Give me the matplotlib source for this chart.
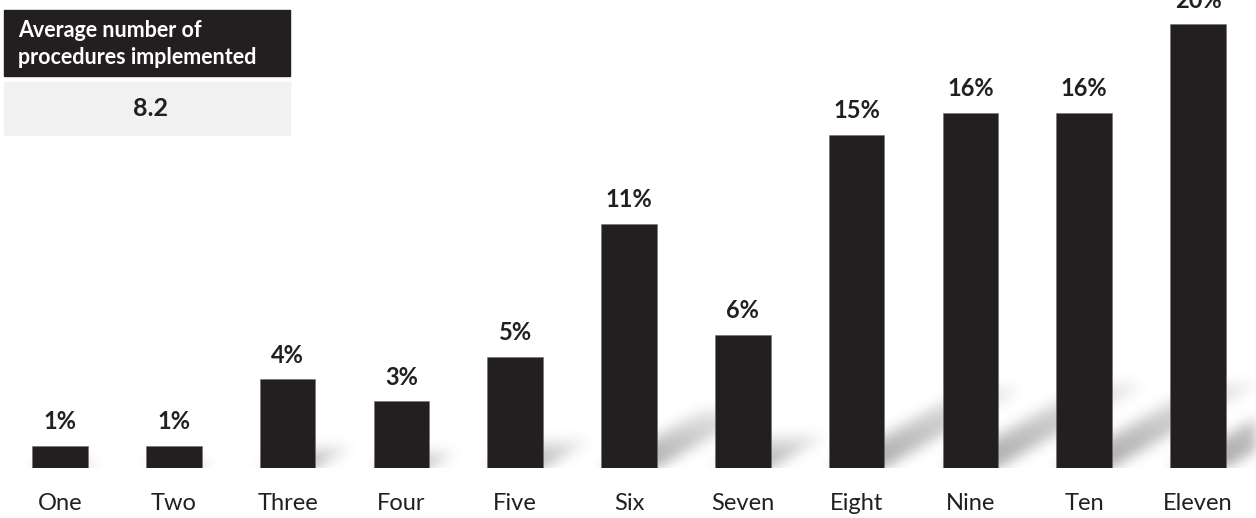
import numpy as np
import matplotlib
matplotlib.use("Agg")
import matplotlib.pyplot as plt
from matplotlib.patches import Rectangle

# datos
categorias = ["One", "Two", "Three", "Four", "Five", "Six", "Seven", "Eight", "Nine", "Ten", "Eleven"]
porcentajes = [1, 1, 4, 3, 5, 11, 6, 15, 16, 16, 20]
etiquetas = ["1%", "1%", "4%", "3%", "5%", "11%", "6%", "15%", "16%", "16%", "20%"]
titulo_caja = "Average number of\nprocedures implemented"
promedio = "8.2"

color_barra = "#231f20"
ancho = 0.49
fuente = "Lato"

fig = plt.figure(figsize=(12.56, 5.18), dpi=100)
ax = fig.add_axes([0, 50 / 518, 1, 468 / 518])
xmin, xmax = -60 / 113.8, (1256 - 60) / 113.8
ymin, ymax = 0, 468 / 22.2
ax.set_xlim(xmin, xmax)
ax.set_ylim(ymin, ymax)
ax.axis("off")

x = np.arange(len(categorias))

# sombras: cada barra proyecta una sombra difusa hacia atras a la derecha
nx, ny = 1256, 468
gx = np.linspace(xmin, xmax, nx)
gy = np.linspace(ymin, ymax, ny)
X, Y = np.meshgrid(gx, gy)
sombra = np.zeros_like(X)
for xi, v in zip(x, porcentajes):
    x0 = xi - ancho / 2
    dx, dy = 0.08 * v, 0.235 * v
    t = Y / dy
    s = (X - x0 - t * dx) / ancho
    dentro = (t >= 0) & (t <= 1) & (s >= 0) & (s <= 1)
    val = np.where(dentro, 0.5 * (1 - 0.75 * t), 0)
    sombra = np.maximum(sombra, val)

# desenfoque gaussiano simple
r = 20
k = np.exp(-0.5 * (np.arange(-r, r + 1) / 6.5) ** 2)
k /= k.sum()
pad = np.pad(sombra, ((r, r), (r, r)))
pad = np.apply_along_axis(lambda f: np.convolve(f, k, mode="same"), 1, pad)
pad = np.apply_along_axis(lambda c: np.convolve(c, k, mode="same"), 0, pad)
sombra = pad[r:-r, r:-r]

rgba = np.zeros((ny, nx, 4))
rgba[..., :3] = 0.3
rgba[..., 3] = np.clip(sombra, 0, 1)
ax.imshow(rgba, extent=[xmin, xmax, ymin, ymax], origin="lower", aspect="auto",
          interpolation="bilinear", zorder=1)

ax.bar(x, porcentajes, width=ancho, color=color_barra, edgecolor="#6d6e71",
       linewidth=0.4, zorder=2)

for xi, v, et in zip(x, porcentajes, etiquetas):
    ax.annotate(et, (xi, v), xytext=(0, 24), textcoords="offset pixels",
                ha="center", va="center", fontsize=17, fontweight="bold",
                family=fuente, color=color_barra, annotation_clip=False)

for xi, c in zip(x, categorias):
    ax.annotate(c, (xi, 0), xytext=(0, -36), textcoords="offset pixels",
                ha="center", va="center", fontsize=17, family=fuente,
                color=color_barra, annotation_clip=False)

# caja superior izquierda
W, H = 1256, 518
fig.add_artist(Rectangle((4 / W, 1 - 76 / H), 286 / W, 66 / H, transform=fig.transFigure,
                         color=color_barra, zorder=5))
fig.add_artist(Rectangle((4 / W, 1 - 135 / H), 286 / W, 53 / H, transform=fig.transFigure,
                         color="#f1f1f2", zorder=5))
fig.text(18 / W, 1 - 44 / H, titulo_caja, ha="left", va="center", color="white",
         fontsize=15.5, fontweight="bold", family=fuente, linespacing=1.3, zorder=6)
fig.text(150 / W, 1 - 109 / H, promedio, ha="center", va="center", color=color_barra,
         fontsize=18, fontweight="bold", family=fuente, zorder=6)

fig.savefig("out.png", dpi=100, facecolor="white")
